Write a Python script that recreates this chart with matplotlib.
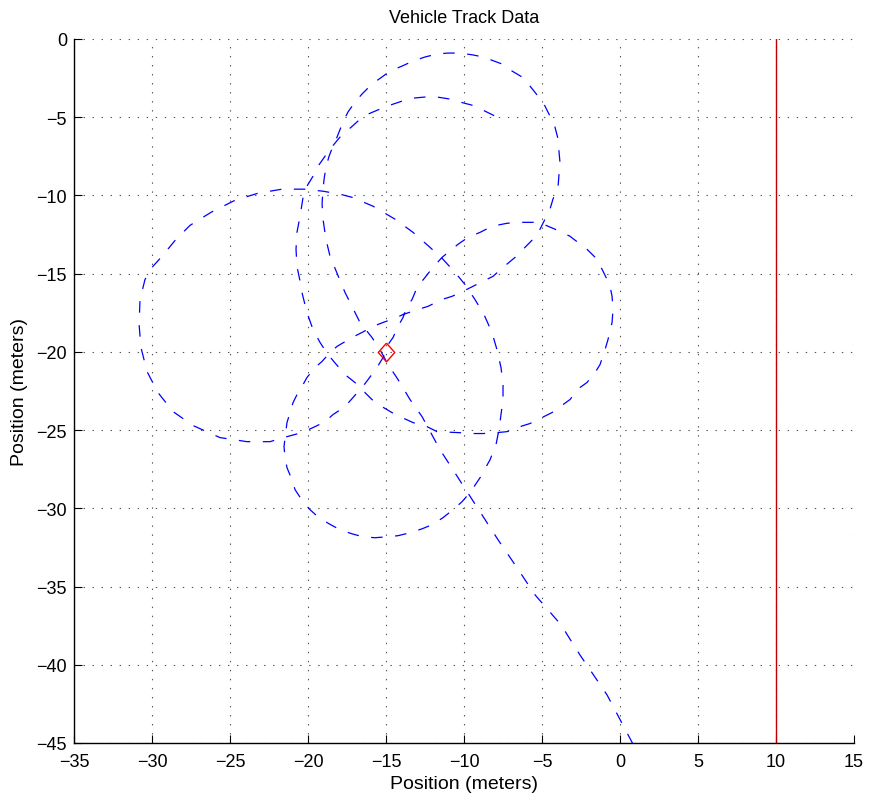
import matplotlib
matplotlib.use("Agg")
import matplotlib.pyplot as plt

plt.rcParams['font.family'] = ['Liberation Sans', 'DejaVu Sans']
plt.rcParams['lines.scale_dashes'] = False

# vehicle track (meters)
track_x = [0.83, -0.83, -2.57, -3.78, -5.45, -6.73, -7.82, -10.71, -11.54, -12.69,
           -13.46, -14.23, -14.87, -15.39, -15.90, -16.67, -17.63, -18.59, -18.85, -19.04,
           -19.10, -19.04, -18.97, -18.85, -18.65, -18.40, -18.14, -17.76, -17.44, -16.99,
           -16.54, -15.90, -15.26, -14.74, -13.97, -13.27, -12.50, -11.73, -11.03, -10.26,
           -9.42, -8.78, -7.56, -6.92, -6.28, -5.77, -5.26, -4.81, -4.49, -4.17,
           -3.97, -3.91, -3.85, -3.91, -3.97, -4.30, -4.49, -4.81, -5.13, -5.58,
           -6.09, -6.73, -7.50, -8.14, -8.78, -9.42, -10.07, -10.77, -11.41, -12.31,
           -12.95, -13.91, -14.30, -15.19, -15.83, -16.54, -17.18, -18.14, -18.59, -19.10,
           -19.55, -20.07, -20.39, -20.64, -20.96, -21.15, -21.35, -21.47, -21.54, -21.47,
           -21.35, -21.03, -20.83, -20.32, -19.87, -19.30, -18.65, -17.95, -17.18, -16.48,
           -15.71, -14.94, -14.23, -13.46, -12.69, -12.05, -11.35, -10.71, -10.13, -9.62,
           -8.97, -8.33, -7.95, -7.76, -7.63, -7.50, -7.50, -7.63, -7.89, -8.21,
           -8.72, -9.30, -9.94, -10.58, -11.35, -12.18, -13.27, -14.42, -15.83, -17.18,
           -17.95, -19.04, -20.19, -21.67, -23.21, -24.68, -26.22, -27.56, -28.46, -29.36,
           -29.94, -30.45, -30.77, -30.83, -30.71, -30.32, -29.62, -28.65, -27.37, -25.64,
           -23.91, -22.44, -21.35, -20.39, -19.55, -18.91, -18.40, -17.63, -17.12, -16.54,
           -16.15, -15.58, -15.19, -14.87, -14.55, -14.23, -13.91, -13.65, -13.33, -13.01,
           -12.50, -11.99, -11.41, -10.38, -9.74, -8.97, -8.21, -7.24, -6.41, -5.13,
           -4.62, -3.85, -3.21, -2.12, -1.47, -0.83, -0.64, -0.51, -0.45, -0.51,
           -0.77, -0.96, -1.28, -1.60, -2.12, -2.57, -3.21, -3.65, -4.36, -5.00,
           -5.77, -6.41, -7.24, -7.89, -8.78, -9.49, -10.38, -11.73, -12.37, -13.27,
           -13.97, -14.62, -15.26, -15.90, -16.54, -16.99, -17.63, -18.08, -18.72, -19.23,
           -19.68, -20.07, -20.39, -20.51, -20.71, -20.77, -20.71, -20.51, -20.32, -20.07,
           -19.68, -19.36, -18.59, -17.95, -17.37, -16.80, -16.15, -15.39, -14.74, -13.97,
           -13.27, -12.50, -11.73, -10.90, -10.26, -9.49, -8.78, -8.01, -7.50]
track_y = [-45.07, -41.93, -39.37, -37.45, -35.53, -33.61, -32.01, -27.53, -26.25, -24.14,
           -23.05, -21.77, -20.81, -19.85, -19.08, -18.12, -16.20, -13.89, -12.80, -11.52,
           -10.56, -9.60, -8.96, -8.19, -7.49, -6.85, -6.27, -5.31, -4.67, -4.03,
           -3.52, -2.88, -2.43, -2.05, -1.73, -1.41, -1.15, -0.96, -0.90, -0.90,
           -1.02, -1.15, -1.60, -2.05, -2.43, -3.01, -3.65, -4.29, -4.93, -5.63,
           -6.40, -7.23, -7.87, -8.64, -9.41, -10.24, -10.88, -11.52, -12.16, -12.80,
           -13.32, -13.96, -14.60, -15.17, -15.49, -15.81, -16.13, -16.45, -16.65, -17.09,
           -17.29, -17.61, -17.80, -18.12, -18.37, -18.76, -19.08, -19.65, -20.04, -20.61,
           -21.00, -21.64, -22.22, -22.60, -23.24, -23.88, -24.52, -25.48, -26.06, -26.76,
           -27.40, -28.17, -28.81, -29.58, -30.09, -30.60, -30.99, -31.37, -31.63, -31.82,
           -31.88, -31.82, -31.75, -31.56, -31.31, -31.05, -30.60, -30.09, -29.58, -29.00,
           -28.04, -26.89, -25.93, -24.97, -24.01, -23.05, -22.09, -21.00, -19.85, -18.76,
           -17.61, -16.65, -15.69, -14.92, -14.08, -13.32, -12.36, -11.52, -10.69, -10.12,
           -9.92, -9.73, -9.60, -9.60, -9.86, -10.31, -11.08, -11.91, -12.80, -13.89,
           -14.53, -15.37, -16.65, -18.25, -19.72, -21.26, -22.60, -23.82, -24.71, -25.48,
           -25.74, -25.74, -25.42, -25.16, -24.78, -24.46, -24.01, -23.50, -22.92, -22.28,
           -21.77, -21.00, -20.36, -19.53, -19.08, -18.37, -17.80, -17.09, -16.65, -15.88,
           -15.24, -14.60, -13.96, -13.12, -12.68, -12.36, -11.97, -11.78, -11.72, -11.72,
           -11.97, -12.29, -12.61, -13.44, -14.08, -15.37, -15.81, -16.45, -17.29, -18.12,
           -19.21, -19.85, -20.81, -21.32, -21.96, -22.28, -23.05, -23.37, -23.88, -24.20,
           -24.58, -24.78, -25.10, -25.16, -25.22, -25.22, -25.16, -25.10, -24.78, -24.52,
           -24.20, -23.88, -23.50, -23.05, -22.41, -21.96, -21.45, -20.93, -20.17, -19.40,
           -18.57, -17.48, -16.20, -15.49, -14.53, -13.44, -12.36, -11.33, -10.12, -9.41,
           -8.77, -8.13, -7.04, -6.27, -5.76, -5.25, -4.80, -4.48, -4.23, -3.97,
           -3.78, -3.71, -3.71, -3.84, -4.03, -4.23, -4.55, -4.93, -5.31]

marker_x = [-15]
marker_y = [-20]

wall_x = [10, 10]
wall_y = [0, -45]

x_ticks = [-35, -30, -25, -20, -15, -10, -5, 0, 5, 10, 15]
y_ticks = [-45, -40, -35, -30, -25, -20, -15, -10, -5, 0]

# MATLAB style diamond, a bit wider than matplotlib's 'd'
diamond = [(0, 1), (0.88, 0), (0, -1), (-0.88, 0), (0, 1)]

fig = plt.figure(figsize=(8.71, 8.03), dpi=100)
ax = fig.add_axes([0.085, 0.0735, 0.8955, 0.8767])

ax.plot(track_x, track_y, color='#0000ff', lw=0.9, dashes=(8.3, 9.0))
ax.plot(marker_x, marker_y, marker=diamond, ms=13.5, mfc='none', mec='#ff0000', mew=1.0, ls='none')
ax.plot(wall_x, wall_y, color='#c00000', lw=1.0)

ax.set_xlim(-35, 15)
ax.set_ylim(-45, 0)
ax.set_xticks(x_ticks)
ax.set_yticks(y_ticks)
ax.grid(True, color='#555555', lw=0.8, dashes=(1, 5.5))

for s in ['top', 'right']:
    ax.spines[s].set_visible(False)
for s in ['left', 'bottom']:
    ax.spines[s].set_linewidth(1.0)

ax.tick_params(direction='in', length=6, width=0.8, labelsize=13)
ax.tick_params(axis='x', pad=7)
ax.tick_params(axis='y', pad=5)

ax.set_title('Vehicle Track Data', fontsize=13, pad=12)
ax.set_xlabel('Position (meters)', fontsize=14, labelpad=4)
ax.set_ylabel('Position (meters)', fontsize=14, labelpad=6)

fig.savefig('out.png', dpi=100)
